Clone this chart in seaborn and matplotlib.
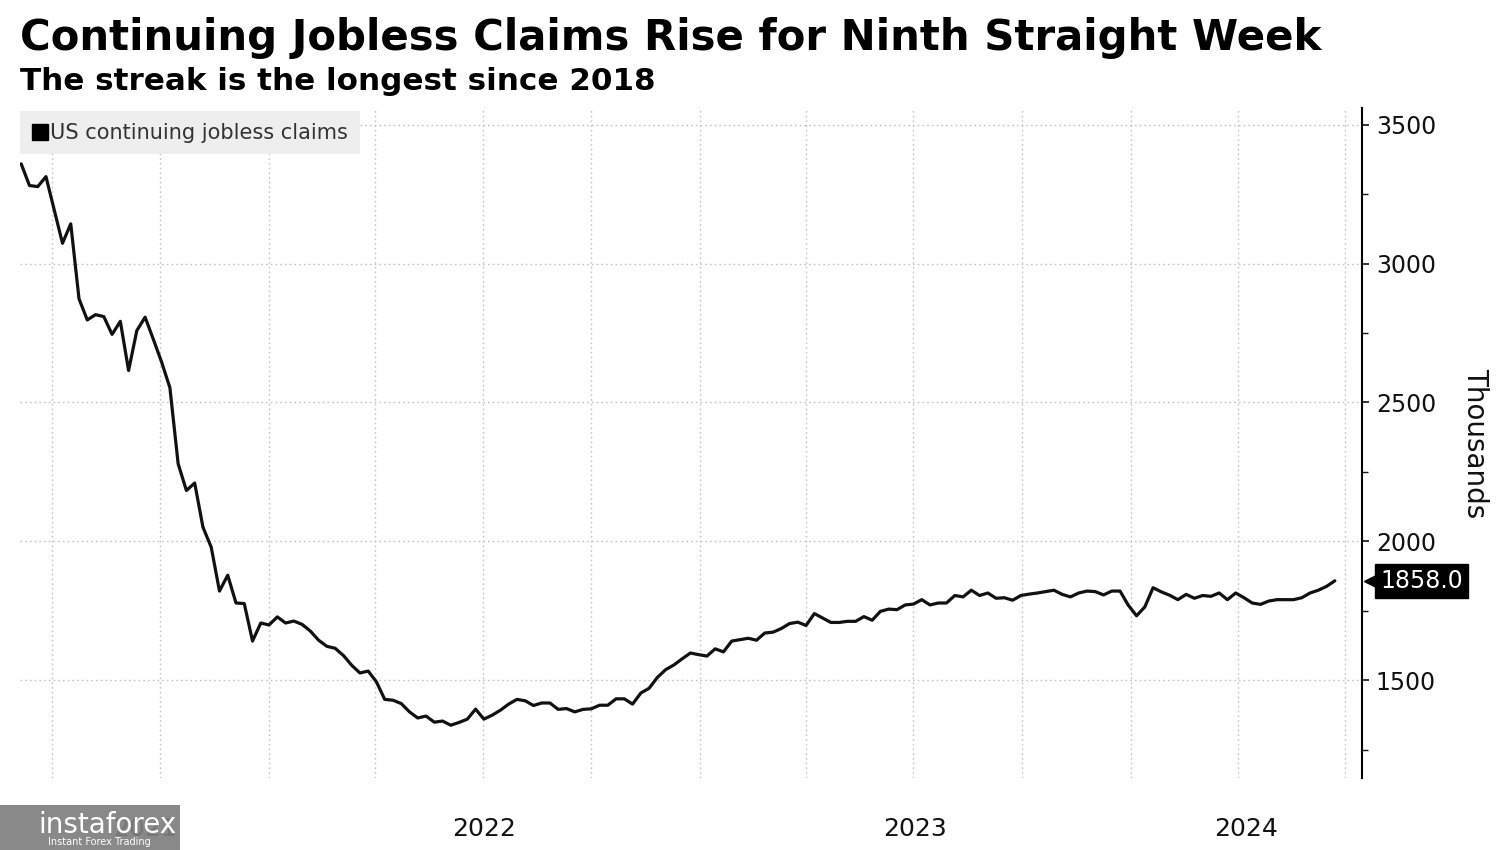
import matplotlib
matplotlib.use("Agg")
import matplotlib.pyplot as plt
import matplotlib.dates as mdates
from matplotlib.lines import Line2D
from matplotlib.patches import Rectangle
import numpy as np
import pandas as pd
import seaborn as sns

# ---------------- data ----------------
series_name = "US continuing jobless claims"
end_date = "2024-06-22"
claims = [
    3359, 3281, 3277, 3313, 3193, 3073, 3143, 2873, 2797, 2816,
    2809, 2745, 2792, 2615, 2759, 2807, 2727, 2645, 2553, 2279,
    2183, 2210, 2051, 1979, 1821, 1878, 1778, 1776, 1641, 1706,
    1699, 1728, 1706, 1713, 1701, 1677, 1644, 1622, 1615, 1589,
    1554, 1526, 1533, 1494, 1431, 1428, 1416, 1386, 1364, 1371,
    1349, 1353, 1338, 1348, 1360, 1396, 1360, 1374, 1392, 1414,
    1431, 1426, 1409, 1418, 1418, 1395, 1398, 1386, 1395, 1397,
    1410, 1410, 1433, 1433, 1414, 1454, 1471, 1510, 1538, 1555,
    1577, 1598, 1592, 1587, 1613, 1602, 1641, 1646, 1651, 1644,
    1670, 1673, 1686, 1704, 1709, 1697, 1740, 1724, 1708, 1708,
    1712, 1712, 1729, 1716, 1748, 1756, 1754, 1771, 1774, 1790,
    1771, 1778, 1778, 1805, 1800, 1824, 1805, 1814, 1795, 1797,
    1788, 1805, 1810, 1814, 1819, 1824, 1809, 1800, 1814, 1821,
    1819, 1807, 1821, 1821, 1770, 1732, 1764, 1833, 1818, 1806,
    1790, 1809, 1795, 1805, 1802, 1814, 1790, 1814, 1797, 1778,
    1773, 1785, 1790, 1790, 1790, 1797, 1814, 1824, 1838, 1858,
]
y_ticks = [1500, 2000, 2500, 3000, 3500]
y_minor = [1250, 1750, 2250, 2750, 3250]
year_labels = ["2021", "2022", "2023", "2024"]
last_label = "1858.0"
title = "Continuing Jobless Claims Rise for Ninth Straight Week"
subtitle = "The streak is the longest since 2018"
y_label = "Thousands"

dates = pd.date_range(end=end_date, periods=len(claims), freq="W-SAT")
df = pd.DataFrame({"date": dates, "claims": claims})

# ---------------- figure ----------------
sns.set_theme(style="white")
plt.rcParams["font.family"] = ["DejaVu Sans"]

fig = plt.figure(figsize=(15, 8.5), dpi=100)
ax = fig.add_axes([20 / 1500, 1 - 778 / 850, (1362 - 20) / 1500, (778 - 108) / 850])

sns.lineplot(data=df, x="date", y="claims", color="#111111", lw=2.3, ax=ax, legend=False)

x_left = dates[0] - pd.Timedelta(days=1)
x_right = pd.Timestamp("2024-07-15")
ax.set_xlim(x_left, x_right)
ax.set_ylim(1148, 3560)

# grid: quarterly verticals, 500-step horizontals
ax.xaxis.set_major_locator(mdates.MonthLocator(bymonth=[1, 4, 7, 10]))
ax.xaxis.set_major_formatter(plt.NullFormatter())
ax.tick_params(axis="x", which="major", length=0)
ax.grid(True, which="major", color="#c4c4c4", lw=1.0, linestyle=(0, (1.2, 2.2)))

# year labels centred on the visible part of each year
centers = []
for lab in year_labels:
    y0 = max(pd.Timestamp(f"{lab}-01-01"), x_left)
    y1 = min(pd.Timestamp(f"{int(lab) + 1}-01-01"), x_right)
    centers.append(mdates.date2num(y0) + (mdates.date2num(y1) - mdates.date2num(y0)) / 2)
ax.set_xticks(centers, minor=True)
ax.set_xticklabels(year_labels, minor=True)
ax.tick_params(axis="x", which="minor", length=0, labelsize=18, pad=28, labelcolor="#111111")

# right y axis
ax.yaxis.tick_right()
ax.set_yticks(y_ticks)
ax.set_yticks(y_minor, minor=True)
ax.set_yticklabels([str(v) for v in y_ticks])
ax.tick_params(axis="y", which="major", direction="out", length=5, width=1.2,
               labelsize=17, pad=5, colors="#111111")
ax.tick_params(axis="y", which="minor", direction="out", length=4, width=1.0, colors="#111111")
ax.yaxis.set_label_position("right")
ax.set_ylabel(y_label, rotation=270, fontsize=20, labelpad=38, color="#111111")
ax.set_xlabel("")

for s in ["top", "left", "bottom"]:
    ax.spines[s].set_visible(False)
ax.spines["right"].set_color("black")
ax.spines["right"].set_linewidth(1.5)

# legend
handle = Line2D([], [], marker="s", color="black", linestyle="none", markersize=11)
leg = ax.legend([handle], [series_name], loc="upper left", bbox_to_anchor=(0, 0.995),
                frameon=True, fancybox=False, borderaxespad=0, handletextpad=0.1,
                handlelength=0.8, borderpad=0.55, fontsize=15)
leg.get_frame().set_facecolor("#eeeeee")
leg.get_frame().set_edgecolor("none")
leg.get_frame().set_alpha(1)
for t in leg.get_texts():
    t.set_color("#333333")

# last-value tag
trans = matplotlib.transforms.blended_transform_factory(ax.transAxes, ax.transData)
ax.text(1.0135, claims[-1], last_label, transform=trans, ha="left", va="center",
        fontsize=17, color="white", clip_on=False, zorder=6,
        bbox=dict(boxstyle="square,pad=0.22", fc="black", ec="black"))
ax.plot([1.0075], [claims[-1]], marker="<", markersize=12, color="black",
        transform=trans, clip_on=False, zorder=6)

# titles
fig.text(20 / 1500, 1 - 50 / 850, title, fontsize=30.2, fontweight="bold", ha="left",
         va="baseline", color="black")
fig.text(20 / 1500, 1 - 90 / 850, subtitle, fontsize=22.3, fontweight="bold", ha="left",
         va="baseline", color="black")

# watermark overlay (as in reference)
fig.patches.append(Rectangle((0, 0), 180 / 1500, 45 / 850, transform=fig.transFigure,
                             facecolor="#7f7f7f", edgecolor="none", alpha=0.92, zorder=5))
fig.text(38 / 1500, 1 - 825 / 850, "instaforex", fontsize=20, color="white", ha="left",
         va="center", zorder=6)
fig.text(48 / 1500, 1 - 842 / 850, "Instant Forex Trading", fontsize=7, color="white",
         ha="left", va="center", zorder=6)

fig.savefig("out.png", dpi=100)
